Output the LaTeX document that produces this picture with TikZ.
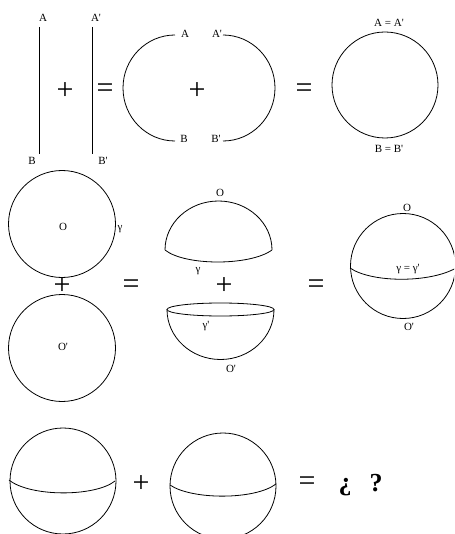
\documentclass[tikz,border=0pt]{standalone}
\usepackage{fontspec}
\setmainfont{Liberation Serif}
\newcommand\pq{\textquotesingle}
\tikzset{
  lbl/.style={inner sep=0pt, font=\fontsize{11}{12}\selectfont},
  op/.style={inner sep=0pt, font=\fontsize{30}{30}\selectfont},
  opb/.style={inner sep=0pt, font=\bfseries\fontsize{26}{26}\selectfont},
  ln/.style={line width=0.8pt}
}
\begin{document}
\begin{tikzpicture}[x=1pt,y=-1pt]
\useasboundingbox (0,0) rectangle (454,534);
\clip (0,0) rectangle (454,534);
% ---------- row 1 ----------
\draw[ln] (39,27) -- (39,154);
\draw[ln] (92,27) -- (92,154);
\node[lbl] (a1) at (43,18) {A};
\node[lbl] (b1) at (32,161) {B};
\node[lbl] (a2) at (96,18) {A\pq};
\node[lbl] (b2) at (103,161) {B\pq};
\node[op] (p1) at (65,91) {+};
\node[op] (e1) at (105,91) {=};
\draw[ln] (175,35) arc[start angle=270,end angle=90,x radius=52,y radius=53];
\draw[ln] (223,35) arc[start angle=-90,end angle=90,x radius=52,y radius=53];
\node[lbl] (a3) at (185,34) {A};
\node[lbl] (a4) at (217,34) {A\pq};
\node[lbl] (b3) at (184,139) {B};
\node[lbl] (b4) at (216,139) {B\pq};
\node[op] (p2) at (197,91) {+};
\node[op] (e2) at (304,91) {=};
\draw[ln] (385,85) circle[radius=53];
\node[lbl] (aa) at (389,23) {A = A\pq};
\node[lbl] (bb) at (389,149) {B = B\pq};
% ---------- row 2 ----------
\draw[ln] (62,224) circle[radius=53.5];
\node[lbl] (o1) at (63,227) {O};
\node[lbl] (g1) at (120,229) {γ};
\node[op] (p3) at (62,286) {+};
\draw[ln] (62,348) circle[radius=53.5];
\node[lbl] (o2) at (63,347) {O\pq};
\node[op] (e3) at (131,287) {=};
% upper hemisphere
\draw[ln] (165,250) arc[start angle=180,end angle=360,x radius=53.5,y radius=49];
\draw[ln] (165,250) .. controls (185,266) and (250,266) .. (272,250);
\node[lbl] (o3) at (220,193) {O};
\node[lbl] (g2) at (198,271) {γ};
\node[op] (p4) at (224,286) {+};
% lower hemisphere
\draw[ln] (220.5,309.5) ellipse[x radius=53.5,y radius=6.5];
\draw[ln] (167,309.5) arc[start angle=180,end angle=0,x radius=53.5,y radius=50];
\node[lbl] (g3) at (206,326) {γ\pq};
\node[lbl] (o4) at (231,369) {O\pq};
\node[op] (e4) at (316,287) {=};
% full sphere
\draw[ln] (403,266) circle[radius=52.5];
\draw[ln] (350,268) .. controls (372,283) and (430,283) .. (456,268);
\node[lbl] (o5) at (407,208) {O};
\node[lbl] (gg) at (408,269) {γ = γ\pq};
\node[lbl] (o6) at (409,327) {O\pq};
% ---------- row 3 ----------
\draw[ln] (63,481) circle[radius=53];
\draw[ln] (9,480) .. controls (30,497) and (95,497) .. (115,481);
\node[op] (p5) at (141,484) {+};
\draw[ln] (223,486) circle[radius=53];
\draw[ln] (170,485) .. controls (192,500) and (255,500) .. (276,484);
\node[op] (e5) at (307,484) {=};
\node[opb] (q1) at (345,487) {¿};
\node[opb] (q2) at (376,483) {?};
\end{tikzpicture}
\end{document}
